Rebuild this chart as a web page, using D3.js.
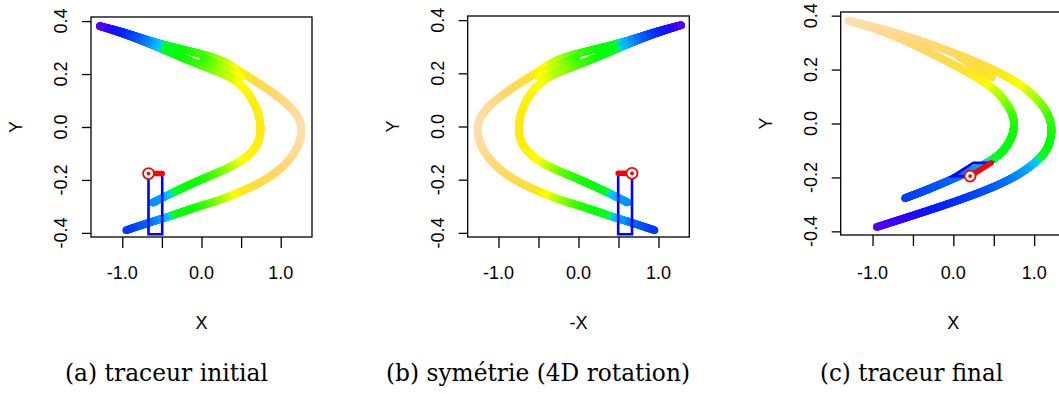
<!DOCTYPE html>
<html><head><meta charset="utf-8">
<script src="https://cdn.jsdelivr.net/npm/d3@7"></script>
<style>body{margin:0;background:#fff}svg{display:block}
.cap{font-family:'DejaVu Serif','Liberation Serif',serif;}
.tk{font-family:'Liberation Sans',Arial,sans-serif;}
</style>
</head><body>
<svg id="chart" width="1059" height="394"></svg>
<script>
// ---------- data ----------
const xTicks = [-1, -0.5, 0, 0.5, 1];
const xTickLabels = ["-1.0", "", "0.0", "", "1.0"];
const yTicks = [0.4, 0.2, 0, -0.2, -0.4];
const yTickLabels = ["0.4", "0.2", "0.0", "-0.2", "-0.4"];
const xTitles = ["X", "-X", "X"];
const yTitles = ["Y", "Y", "Y"];
const captions = ["(a) traceur initial", "(b) symétrie (4D rotation)", "(c) traceur final"];

// initial tracer, outer strand
const initOuterX = [-1.283, -0.972, -0.55, -0.05, 0.28, 0.48, 0.775, 1.07, 1.237, 1.27, 1.237, 1.069, 0.775, 0.438, 0.2, -0.067, -0.424, -0.6, -0.951];
const initOuterY = [0.381, 0.358, 0.315, 0.28, 0.252, 0.21, 0.156, 0.093, 0.037, -0.01, -0.069, -0.145, -0.208, -0.252, -0.28, -0.302, -0.34, -0.355, -0.39];
const initOuterC = [0.0, 0.13, 0.31, 0.45, 0.62, 0.67, 0.78, 0.9, 0.97, 1.0, 0.97, 0.88, 0.78, 0.7, 0.6, 0.45, 0.33, 0.27, 0.16];
// initial tracer, inner strand
const initInnerX = [-1.283, -0.972, -0.55, -0.1, 0.28, 0.48, 0.62, 0.72, 0.754, 0.73, 0.6, 0.44, 0.23, 0.0, -0.38, -0.614];
const initInnerY = [0.381, 0.352, 0.302, 0.243, 0.202, 0.168, 0.118, 0.055, 0.0, -0.06, -0.108, -0.14, -0.17, -0.197, -0.25, -0.286];
const initInnerC = [0.0, 0.13, 0.31, 0.45, 0.61, 0.66, 0.69, 0.7, 0.7, 0.7, 0.69, 0.665, 0.56, 0.45, 0.335, 0.27];
// initial tracer, middle filament of the upper band
const initMidX = [0.03, 0.28, 0.5];
const initMidY = [0.258, 0.227, 0.19];
const initMidC = [0.46, 0.61, 0.67];
// final tracer, outer strand
const finalOuterX = [-1.30, -0.78, -0.165, 0.454, 0.908, 1.156, 1.238, 1.176, 1.032, 0.743, 0.248, -0.371, -0.948];
const finalOuterY = [0.381, 0.344, 0.283, 0.209, 0.134, 0.054, -0.02, -0.094, -0.143, -0.205, -0.267, -0.329, -0.384];
const finalOuterC = [1.0, 0.95, 0.85, 0.74, 0.665, 0.55, 0.45, 0.4, 0.32, 0.26, 0.18, 0.1, 0.02];
// final tracer, inner strand
const finalInnerX = [-1.30, -0.78, -0.082, 0.454, 0.66, 0.764, 0.743, 0.619, 0.413, 0.042, -0.288, -0.598];
const finalInnerY = [0.381, 0.336, 0.232, 0.147, 0.079, 0.017, -0.044, -0.106, -0.150, -0.199, -0.242, -0.277];
const finalInnerC = [1.0, 0.93, 0.78, 0.68, 0.58, 0.48, 0.42, 0.38, 0.32, 0.24, 0.2, 0.17];
// final tracer, middle filament of the upper band
const finalMidX = [0.06, 0.25, 0.48];
const finalMidY = [0.25, 0.212, 0.172];
const finalMidC = [0.8, 0.77, 0.73];

// tracer segment and swept parallelogram
const initSegX = [-0.669, -0.496];
const initSegY = [-0.176, -0.176];
const initBoxX = [-0.669, -0.496, -0.496, -0.669];
const initBoxY = [-0.176, -0.176, -0.405, -0.405];
const finalSegX = [0.207, 0.467];
const finalSegY = [-0.195, -0.146];
const finalBoxX = [-0.012, 0.248, 0.467, 0.207];
const finalBoxY = [-0.195, -0.146, -0.146, -0.195];

// colour map (value -> colour)
const colourT = [0.0, 0.06, 0.12, 0.18, 0.24, 0.29, 0.325, 0.33, 0.40, 0.50, 0.58, 0.64, 0.665, 0.70, 0.75, 0.85, 0.95, 1.0];
const colourC = ["#5a00ff", "#3300ff", "#0022ff", "#0044ff", "#0070ff", "#00a8ff", "#00d0ff", "#00ff30", "#00ff00", "#40ff00", "#90ff00", "#d0ff00", "#ffff00", "#ffec10", "#ffdd40", "#ffd870", "#ffdc9c", "#ffe0b0"];

// ---------- drawing ----------
const svg = d3.select("#chart");
const colour = d3.scaleLinear().domain(colourT).range(colourC).interpolate(d3.interpolateRgb).clamp(true);

const panels = [
  {left: 91, right: 312, top: 17, bottom: 237, xd: 1.395, yd: 0.4155, flip: 1,
   strands: [[initOuterX, initOuterY, initOuterC], [initMidX, initMidY, initMidC], [initInnerX, initInnerY, initInnerC]],
   seg: [initSegX, initSegY], box: [initBoxX, initBoxY], cap: 166.5},
  {left: 467.7, right: 689.3, top: 16, bottom: 237, xd: 1.385, yd: 0.4155, flip: -1,
   strands: [[initOuterX, initOuterY, initOuterC], [initMidX, initMidY, initMidC], [initInnerX, initInnerY, initInnerC]],
   seg: [initSegX, initSegY], box: [initBoxX, initBoxY], cap: 538},
  {left: 840.7, right: 1066, top: 12, bottom: 235, xd: 1.394, yd: 0.4135, flip: 1,
   strands: [[finalOuterX, finalOuterY, finalOuterC], [finalMidX, finalMidY, finalMidC], [finalInnerX, finalInnerY, finalInnerC]],
   seg: [finalSegX, finalSegY], box: [finalBoxX, finalBoxY], cap: 911.5}
];
const capWidths = [203, 304, 183];

panels.forEach((p, k) => {
  const sx = d3.scaleLinear().domain([-p.xd, p.xd]).range([p.left, p.right]);
  const sy = d3.scaleLinear().domain([-p.yd, p.yd]).range([p.bottom, p.top]);
  const g = svg.append("g");

  // strands
  p.strands.forEach(([xs, ys, cs]) => {
    const fx = d3.interpolateBasis(xs), fy = d3.interpolateBasis(ys), fc = d3.interpolateBasis(cs);
    const n = xs.length < 5 ? 200 : 900;
    const pts = d3.range(0, n + 1).map(i => i / n).map(u => ({x: p.flip * fx(u), y: fy(u), c: fc(u)}));
    g.append("g").selectAll("circle").data(pts).join("circle")
      .attr("cx", d => sx(d.x)).attr("cy", d => sy(d.y)).attr("r", 3.8)
      .attr("fill", d => colour(d.c));
  });

  // swept parallelogram
  const bx = p.box[0], by = p.box[1];
  g.append("path")
    .attr("d", d3.line()(bx.map((v, i) => [sx(p.flip * v), sy(by[i])])) + "Z")
    .attr("fill", "none").attr("stroke", "#0000ff").attr("stroke-width", 2.6);
  // tracer segment
  const segPts = p.seg[0].map((v, i) => [sx(p.flip * v), sy(p.seg[1][i])]);
  g.append("path").attr("d", d3.line()(segPts))
    .attr("stroke", "#ff0000").attr("stroke-width", 5.5).attr("stroke-linecap", "round").attr("fill", "none");
  g.append("circle").attr("cx", segPts[0][0]).attr("cy", segPts[0][1]).attr("r", 5.5)
    .attr("fill", "#fff").attr("stroke", "#ff0000").attr("stroke-width", 1.8);
  g.append("circle").attr("cx", segPts[0][0]).attr("cy", segPts[0][1]).attr("r", 1.9).attr("fill", "#ff0000");

  // box
  g.append("rect").attr("x", p.left).attr("y", p.top)
    .attr("width", p.right - p.left).attr("height", p.bottom - p.top)
    .attr("fill", "none").attr("stroke", "#000").attr("stroke-width", 1.3);

  // x axis ticks
  const ax = g.append("g").attr("transform", `translate(0,${p.bottom})`)
    .call(d3.axisBottom(sx).tickValues(xTicks).tickFormat("").tickSize(11).tickSizeOuter(0));
  ax.select(".domain").remove();
  ax.selectAll("line").attr("stroke", "#000").attr("stroke-width", 1.3);
  g.selectAll(null).data(xTicks).join("text").attr("class", "tk")
    .attr("x", d => sx(d)).attr("y", 279).attr("text-anchor", "middle")
    .attr("font-size", 18).text((d, i) => xTickLabels[i]);

  // y axis ticks
  const ay = g.append("g").attr("transform", `translate(${p.left},0)`)
    .call(d3.axisLeft(sy).tickValues(yTicks).tickFormat("").tickSize(9).tickSizeOuter(0));
  ay.select(".domain").remove();
  ay.selectAll("line").attr("stroke", "#000").attr("stroke-width", 1.3);
  g.selectAll(null).data(yTicks).join("text").attr("class", "tk")
    .attr("transform", d => `translate(${p.left - 24},${sy(d)}) rotate(-90)`)
    .attr("text-anchor", "middle")
    .attr("font-size", 18).text((d, i) => yTickLabels[i]);

  // titles
  g.append("text").attr("class", "tk").attr("x", sx(0)).attr("y", 329).attr("text-anchor", "middle")
    .attr("font-size", 18).text(xTitles[k]);
  g.append("text").attr("class", "tk").attr("transform", `translate(${p.left - 69},${(p.top + p.bottom) / 2}) rotate(-90)`)
    .attr("text-anchor", "middle").attr("font-size", 18).text(yTitles[k]);

  // caption
  svg.append("text").attr("class", "cap").attr("x", p.cap).attr("y", 381).attr("text-anchor", "middle")
    .attr("font-size", 24)
    .attr("textLength", capWidths[k]).attr("lengthAdjust", "spacingAndGlyphs")
    .text(captions[k]);
});
</script>
</body></html>
